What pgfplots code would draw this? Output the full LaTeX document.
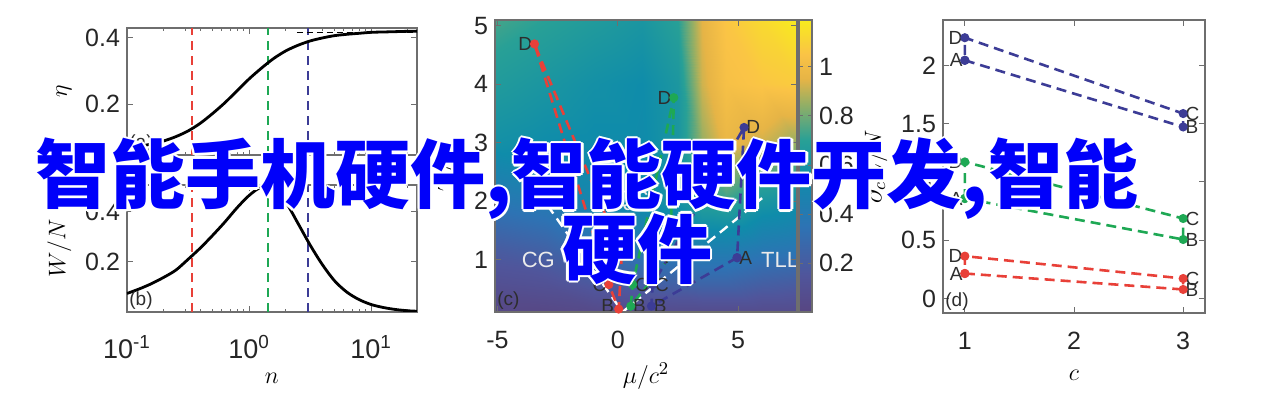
\documentclass[border=0pt]{standalone}
\usepackage{pgfplots}
\pgfplotsset{compat=1.18}
\usepackage{fontspec}
\setmainfont{Liberation Sans}
\newfontfamily\cjk{Noto Sans CJK SC}
\definecolor{myred}{RGB}{232,64,56}
\definecolor{mygreen}{RGB}{30,168,84}
\definecolor{myblue}{RGB}{60,60,150}
\definecolor{axgray}{RGB}{110,110,110}
\definecolor{lblgray}{RGB}{45,45,45}
\definecolor{bigblue}{RGB}{0,0,250}
\pgfplotsset{
  colormap={myparula}{rgb255(0pt)=(88,70,130); rgb255(15pt)=(80,85,155); rgb255(35pt)=(45,115,180); rgb255(55pt)=(15,140,170); rgb255(70pt)=(40,160,150); rgb255(85pt)=(150,175,100); rgb255(95pt)=(230,180,70); rgb255(105pt)=(250,195,70); rgb255(119pt)=(248,235,30)},
  myax/.style={scale only axis, anchor=south west,
    axis line style={axgray, line width=0.6pt},
    tick style={axgray, line width=0.5pt},
    major tick length=3pt, minor tick length=1.6pt,
    tick label style={font=\fontsize{12.5}{14}\selectfont, text=black!85},
    xticklabel style={yshift=-6pt},
    /pgf/number format/assume math mode=true,
    label style={font=\fontsize{13}{15}\selectfont},
    tick align=inside},
}
\tikzset{
  dsh/.style={dash pattern=on 5pt off 3pt, line width=1.3pt},
  vline/.style={dash pattern=on 4.5pt off 3pt, line width=1.2pt},
  plbl/.style={font=\fontsize{9.5}{11}\selectfont, text=lblgray, inner sep=1pt},
}
\newcommand{\bigtxt}[4]{%
  \foreach \dx/\dy in {1.2/0,-1.2/0,0/1.2,0/-1.2,0.85/0.85,-0.85/0.85,0.85/-0.85,-0.85/-0.85}{%
    \node[anchor=#3, inner sep=0pt, text=white, font=\cjk\bfseries\fontsize{37.5}{40}\selectfont] at ([xshift=\dx pt, yshift=\dy pt]#1,#2) {#4};}%
  \node[anchor=#3, inner sep=0pt, text=bigblue, font=\cjk\bfseries\fontsize{37.5}{40}\selectfont] at (#1,#2) {#4};}
\begin{document}
\begin{tikzpicture}
\useasboundingbox (0,0) rectangle (634.5pt,200.5pt);
% ---------- (a)
\begin{axis}[myax, at={(63.5pt,123pt)}, width=145pt, height=63.5pt,
  xmode=log, xmin=0.1, xmax=23.8, ymin=0.048, ymax=0.429,
  xtick={0.1,1,10}, minor xtick={0.2,0.3,0.4,0.5,0.6,0.7,0.8,0.9,2,3,4,5,6,7,8,9,20},
  xticklabels={}, ytick={0.2,0.4}, ylabel={$\eta$}]
\addplot[myred, vline] coordinates {(0.34,0.048) (0.34,0.429)};
\addplot[mygreen, vline] coordinates {(1.43,0.048) (1.43,0.429)};
\addplot[myblue, vline] coordinates {(3.05,0.048) (3.05,0.429)};
\addplot[black, thin, dash pattern=on 3pt off 2pt] coordinates {(2.47,0.416) (23.8,0.416)};
\addplot[black, line width=1.4pt, smooth] coordinates {(0.1,0.070)(0.1259,0.074)(0.1585,0.081)(0.1995,0.090)(0.2512,0.103)(0.3162,0.120)(0.3981,0.143)(0.5012,0.172)(0.631,0.204)(0.7943,0.240)(1,0.276)(1.259,0.308)(1.585,0.337)(1.995,0.360)(2.512,0.377)(3.162,0.390)(3.981,0.399)(5.012,0.406)(6.31,0.410)(7.943,0.413)(10,0.416)(12.59,0.417)(15.85,0.418)(19.95,0.419)(23.8,0.419)};
\node[plbl, anchor=south west] at (rel axis cs:0,0) {(a)};
\end{axis}
% ---------- (b)
\begin{axis}[myax, at={(63.5pt,44.5pt)}, width=145pt, height=63.5pt,
  xmode=log, xmin=0.1, xmax=23.8, ymin=0, ymax=0.507,
  xtick={0.1,1,10}, minor xtick={0.2,0.3,0.4,0.5,0.6,0.7,0.8,0.9,2,3,4,5,6,7,8,9,20},
  xticklabels={10\textsuperscript{-1},10\textsuperscript{0},10\textsuperscript{1}},
  xticklabel style={font=\fontsize{13.5}{15}\selectfont, yshift=-2pt},
  xlabel style={at={(axis description cs:0.5,0)}, anchor=north, yshift=-27pt},
  ytick={0.2,0.4}, ylabel={$W/N$}, xlabel={$n$}]
\addplot[myred, vline] coordinates {(0.34,0) (0.34,0.507)};
\addplot[mygreen, vline] coordinates {(1.43,0) (1.43,0.507)};
\addplot[myblue, vline] coordinates {(3.05,0) (3.05,0.507)};
\addplot[black, line width=1.4pt, smooth] coordinates {(0.1,0.074)(0.1259,0.092)(0.1585,0.113)(0.1995,0.138)(0.2512,0.167)(0.3162,0.210)(0.3981,0.255)(0.5012,0.305)(0.631,0.358)(0.7943,0.415)(1,0.465)(1.259,0.498)(1.585,0.490)(1.995,0.440)(2.512,0.355)(3.162,0.268)(3.981,0.190)(5.012,0.125)(6.31,0.080)(7.943,0.050)(10,0.030)(12.59,0.018)(15.85,0.010)(19.95,0.005)(23.8,0.003)};
\node[plbl, anchor=south west] at (rel axis cs:0,0) {(b)};
\end{axis}
% ---------- (c)
\begin{axis}[myax, at={(247.5pt,44.5pt)}, width=151pt, height=146pt,
  xmin=-5.1, xmax=7.45, ymin=0.1, ymax=5.1, xtick={-5,0,5}, ytick={1,2,3,4,5},
  xlabel={$\mu/c^2$}, ylabel={$T/N$}, axis on top,
  xlabel style={at={(axis description cs:0.5,0)}, anchor=north, yshift=-22pt},
  colormap name=myparula, point meta min=0, point meta max=1.19,
  colorbar, colorbar style={at={(parent axis.north east)}, anchor=north west, xshift=-7.5pt,
    width=6.5pt, ytick={0.2,0.4,0.6,0.8,1}, axis line style={axgray, line width=0.6pt},
    tick style={axgray}, major tick length=2pt,
    yticklabel style={font=\fontsize{12.5}{14}\selectfont, text=black!85},
    /pgf/number format/assume math mode=true}]
\addplot[surf, shader=interp, mesh/cols=9, point meta=explicit] table[meta=c] {
x y c
-5.1 0.1 0.02
-3 0.1 0.02
-1 0.1 0.04
1 0.1 0.06
2.5 0.1 0.06
3.5 0.1 0.06
4.5 0.1 0.06
6 0.1 0.06
7.45 0.1 0.06
-5.1 0.6 0.10
-3 0.6 0.12
-1 0.6 0.18
1 0.6 0.22
2.5 0.6 0.24
3.5 0.6 0.26
4.5 0.6 0.26
6 0.6 0.22
7.45 0.6 0.20
-5.1 1.2 0.20
-3 1.2 0.24
-1 1.2 0.34
1 1.2 0.40
2.5 1.2 0.42
3.5 1.2 0.45
4.5 1.2 0.45
6 1.2 0.40
7.45 1.2 0.38
-5.1 2 0.38
-3 2 0.42
-1 2 0.50
1 2 0.55
2.5 2 0.60
3.5 2 0.70
4.5 2 0.72
6 2 0.62
7.45 2 0.58
-5.1 3 0.58
-3 3 0.55
-1 3 0.54
1 3 0.54
2.5 3 0.62
3.5 3 0.85
4.5 3 0.97
6 3 0.92
7.45 3 0.85
-5.1 4 0.66
-3 4 0.62
-1 4 0.58
1 4 0.55
2.5 4 0.63
3.5 4 0.92
4.5 4 1.03
6 4 1.06
7.45 4 1.08
-5.1 5.1 0.74
-3 5.1 0.70
-1 5.1 0.66
1 5.1 0.62
2.5 5.1 0.70
3.5 5.1 0.95
4.5 5.1 1.06
6 5.1 1.13
7.45 5.1 1.19
};
\addplot[white, dsh, line width=1.2pt] coordinates {(-3.3,2.15) (0.2,0.1) (6.0,2.05)};
\addplot[myred, dsh, mark=*, mark size=1.6pt, mark options={solid}] coordinates {(0.17,1.09) (0.04,0.15) (-0.37,0.57) (-3.46,4.69) (0.17,1.09)};
\addplot[mygreen, dsh, mark=*, mark size=1.6pt, mark options={solid}] coordinates {(2.19,1.05) (0.54,0.2) (0.62,0.57) (2.33,3.77) (2.19,1.05)};
\addplot[myblue, dsh, mark=*, mark size=1.6pt, mark options={solid}] coordinates {(4.96,1.03) (1.4,0.2) (1.45,0.57) (5.25,3.26) (4.96,1.03)};
\node[plbl, anchor=east] at (axis cs:-3.46,4.69) {D};
\node[plbl, anchor=east] at (axis cs:0.17,1.09) {A};
\node[plbl, anchor=east] at (axis cs:-0.37,0.57) {C};
\node[plbl, anchor=east] at (axis cs:-0.05,0.2) {B};
\node[plbl, anchor=east] at (axis cs:2.33,3.77) {D};
\node[plbl, anchor=east] at (axis cs:2.19,1.05) {A};
\node[plbl, anchor=west] at (axis cs:0.62,0.57) {C};
\node[plbl, anchor=west] at (axis cs:0.54,0.2) {B};
\node[plbl, anchor=west] at (axis cs:1.45,0.57) {C};
\node[plbl, anchor=west] at (axis cs:1.4,0.2) {B};
\node[plbl, anchor=west] at (axis cs:4.96,1.03) {A};
\node[plbl, anchor=west] at (axis cs:5.25,3.26) {D};
\node[text=white!92!black, font=\fontsize{11}{13}\selectfont] at (axis cs:-3.3,1.0) {CG};
\node[text=white!92!black, font=\fontsize{11}{13}\selectfont] at (axis cs:0.6,2.0) {QC};
\node[text=white!92!black, font=\fontsize{11}{13}\selectfont] at (axis cs:6.75,1.0) {TLL};
\node[plbl, anchor=south west] at (rel axis cs:0,0) {(c)};
\end{axis}
% ---------- (d)
\begin{axis}[myax, at={(471.5pt,44pt)}, width=131pt, height=146.5pt,
  xmin=0.8, xmax=3.2, ymin=-0.125, ymax=2.39, xtick={1,2,3}, ytick={0,0.5,1,1.5,2},
  xlabel style={at={(axis description cs:0.5,0)}, anchor=north, yshift=-25pt},
  xlabel={$c$}, ylabel={$\partial_c E/N$}]
\addplot[myblue, dsh, mark=*, mark size=1.6pt, mark options={solid}] coordinates {(1,2.044) (3,1.472) (3,1.587) (1,2.238) (1,2.044)};
\addplot[mygreen, dsh, mark=*, mark size=1.6pt, mark options={solid}] coordinates {(1,0.858) (3,0.506) (3,0.686) (1,1.172) (1,0.858)};
\addplot[myred, dsh, mark=*, mark size=1.6pt, mark options={solid}] coordinates {(1,0.214) (3,0.077) (3,0.171) (1,0.363) (1,0.214)};
\node[plbl, anchor=east] at (axis cs:1,2.238) {D};
\node[plbl, anchor=east] at (axis cs:1,2.044) {A};
\node[plbl, anchor=west] at (axis cs:3,1.587) {C};
\node[plbl, anchor=west] at (axis cs:3,1.472) {B};
\node[plbl, anchor=east] at (axis cs:1,1.172) {D};
\node[plbl, anchor=east] at (axis cs:1,0.858) {A};
\node[plbl, anchor=west] at (axis cs:3,0.686) {C};
\node[plbl, anchor=west] at (axis cs:3,0.506) {B};
\node[plbl, anchor=east] at (axis cs:1,0.363) {D};
\node[plbl, anchor=east] at (axis cs:1,0.214) {A};
\node[plbl, anchor=west] at (axis cs:3,0.171) {C};
\node[plbl, anchor=west] at (axis cs:3,0.077) {B};
\node[plbl, anchor=south west] at (rel axis cs:0,0) {(d)};
\end{axis}
% ---------- overlay text
\bigtxt{17.5pt}{111pt}{west}{智能手机硬件,智能硬件开发,智能}
\bigtxt{318.5pt}{76pt}{center}{硬件}
\end{tikzpicture}
\end{document}
